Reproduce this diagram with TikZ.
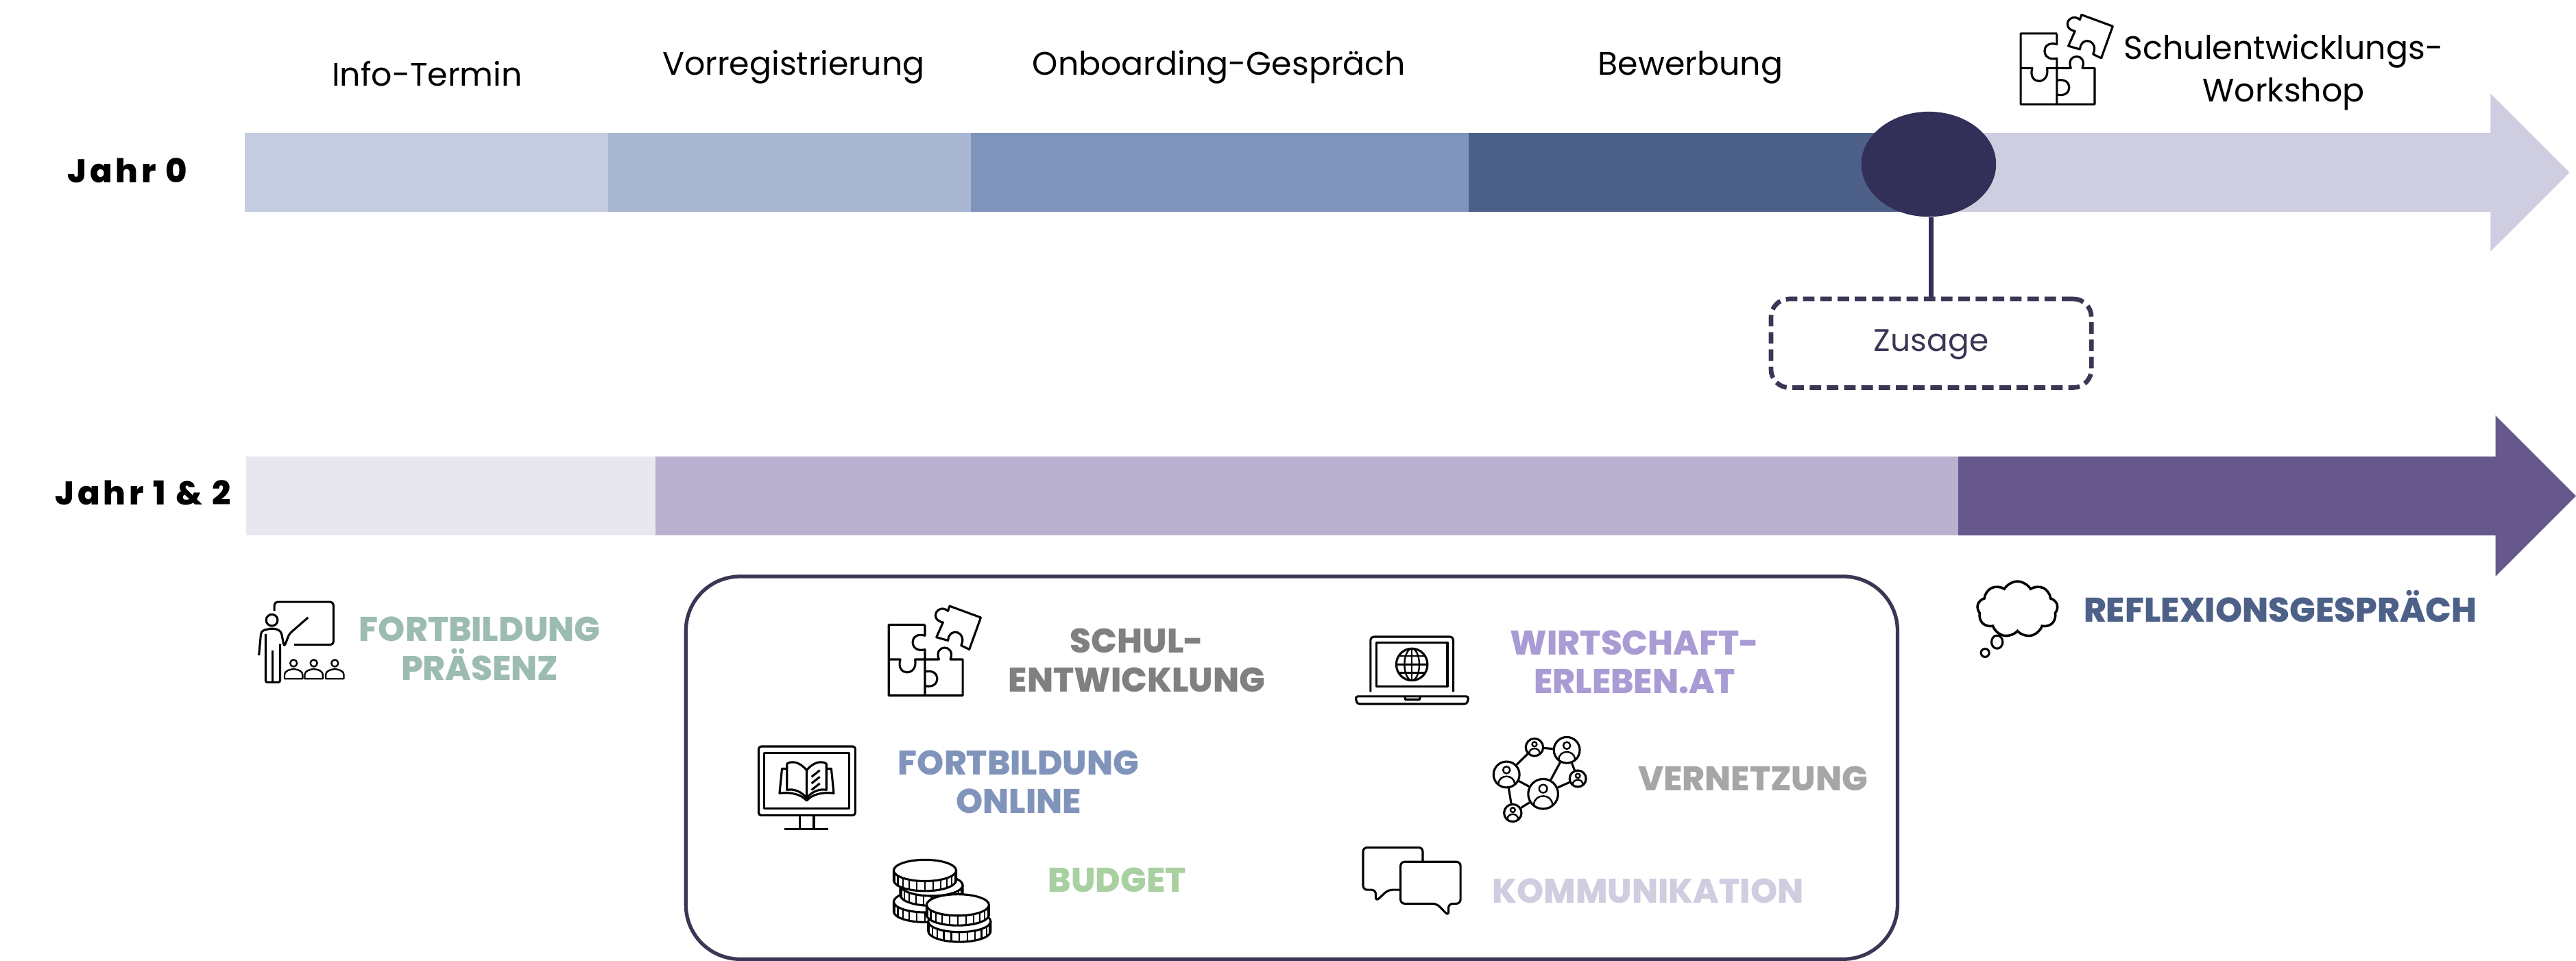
\documentclass[tikz,border=0pt]{standalone}
\usepackage{fontspec}
\setmainfont{Poppins}
\newfontfamily\jahrfont{Poppins ExtraBold}[LetterSpace=10]
\newfontfamily\themafont{Poppins ExtraBold}
\usetikzlibrary{shapes.geometric,shapes.symbols}
\definecolor{seg1}{HTML}{C4CDE0}
\definecolor{seg2}{HTML}{A8B6D1}
\definecolor{seg3}{HTML}{8094BB}
\definecolor{seg4}{HTML}{4C6088}
\definecolor{flieder}{HTML}{CFCDE0}
\definecolor{nacht}{HTML}{322F58}
\definecolor{rahmen}{HTML}{3A3654}
\definecolor{hell}{HTML}{E8E6EF}
\definecolor{mittel}{HTML}{B9B1CF}
\definecolor{dunkel}{HTML}{66588C}
\definecolor{salbei}{HTML}{9DBCB0}
\definecolor{lila}{HTML}{A99BD3}
\definecolor{gruen}{HTML}{A8D0A0}
\tikzset{
	phase/.style={font=\fontsize{19.8}{26}\selectfont,align=center},
	jahr/.style={font=\fontsize{20}{24}\jahrfont},
	thema/.style={font=\fontsize{20.8}{23.5}\themafont,align=center},
	ikon/.style={line width=1.3pt,line join=round,draw=black},
	pics/puzzle/.style={code={
			\draw[ikon] (22,11.4) -- (0,11.4) -- (0,54.5) -- (45,54.5) -- (45,32.5) -- (37.5,32.5)
			.. controls (41,23) and (27,23) .. (30.5,32.5) -- (22,32.5);
			\draw[ikon] (22,11.4) -- (22,18) .. controls (12,15) and (12,29) .. (22,26.5) -- (22,54.5);
			\draw[ikon] (0,32.5) -- (7,32.5) .. controls (4,43) and (18,43) .. (16,32.5) -- (22,32.5);
			\draw[ikon] (22,40) .. controls (32,37.5) and (32,51) .. (22,48.6);
			\draw[ikon] (37,0) -- (56,7) -- (49,26.4) -- (44,24)
			.. controls (48,16) and (37,12) .. (36,21) -- (29,19) -- (33,10)
			.. controls (24,8) and (30,-2) .. (36,3) -- cycle;
	}},
	pics/muenze/.style={code={
			\draw[ikon,fill=white] (-19,0) -- (-19,6) arc[start angle=180,end angle=360,x radius=19pt,y radius=6.5pt] -- (19,0);
			\draw[ikon,fill=white] (0,0) ellipse[x radius=19pt,y radius=6.5pt];
			\foreach \a in {195,210,...,345}
			\draw[line width=.9pt] ({19*cos(\a)},{6-6.5*sin(\a)}) -- ({19*cos(\a)},{-6.5*sin(\a)});
	}},
	pics/person/.style={code={
			\draw[line width=1pt] (0,{-.35*#1}) circle[radius=.27*#1pt];
			\draw[line width=1pt] ({-.62*#1},{.72*#1}) .. controls ({-.6*#1},{-.05*#1}) and ({.6*#1},{-.05*#1}) .. ({.62*#1},{.72*#1});
	}},
	pics/schueler/.style={code={
			\draw[ikon,line width=1pt] (0,0) circle[radius=2.1pt];
			\draw[ikon,line width=1pt] (-5.5,9.5) -- (-5.5,7) .. controls (-5,4) and (-2,4) .. (0,3.5)
			.. controls (2,4) and (5,4) .. (5.5,7) -- (5.5,9.5) -- cycle;
	}},
	netz/.style={circle,draw=black,line width=1.3pt,inner sep=0pt,fill=white},
	blase/.style={ikon,fill=white,rounded corners=2.5pt},
}
\begin{document}
\begin{tikzpicture}[x=1pt,y=-1pt]
	\useasboundingbox (0,0) rectangle (1568,585.13);
	
	% Jahr 0
	\fill[flieder] (1175,81) -- (1516,81) -- (1516,57) -- (1564,105) -- (1516,153) -- (1516,129) -- (1175,129) -- cycle;
	\foreach \von/\bis/\farbe in {149/370/seg1,370/591/seg2,591/894/seg3,894/1175/seg4}
	\fill[\farbe] (\von,81) rectangle (\bis,129);
	\node[ellipse,fill=nacht,minimum width=82pt,minimum height=64pt,inner sep=0pt] (zusagepunkt) at (1174,100) {};
	\node[draw=rahmen,line width=2.8pt,dash pattern=on 7pt off 3.5pt,rounded corners=11pt,minimum width=195pt,minimum height=54pt,
	text=rahmen,font=\fontsize{19}{23}\selectfont,inner sep=0pt,text height=10pt,text depth=0pt] (zusagebox) at (1175.5,209) {Zusage};
	\draw[nacht,line width=2.6pt] (zusagepunkt.south -| zusagebox.north) -- (zusagebox.north);
	
	\node[jahr] (jahrnull) at (77.5,104) {Jahr 0};
	\node[phase] (info) at (260,45) {Info-Termin};
	\node[phase] (vorreg) at (483,41) {Vorregistrierung};
	\node[phase] (onboarding) at (742,41) {Onboarding-Gespräch};
	\node[phase] (bewerbung) at (1029,41) {Bewerbung};
	\node[phase] (workshop) at (1390,44) {Schulentwicklungs-\\Workshop};
	\pic at (1230,9) {puzzle};
	
	% Jahr 1 und 2
	\fill[hell] (150,278) rectangle (399,326);
	\fill[mittel] (399,278) rectangle (1192,326);
	\fill[dunkel] (1192,278) -- (1519,278) -- (1519,253) -- (1568,302) -- (1519,351) -- (1519,326) -- (1192,326) -- cycle;
	\node[jahr] (jahreins) at (87,300) {Jahr 1 \& 2};
	
	% Fortbildung Praesenz
	\draw[ikon,rounded corners=2pt] (167,372) -- (167,366.5) -- (203,366.5) -- (203,392.6) -- (179,392.6);
	\draw[ikon] (165.5,377.6) circle[radius=3.5pt];
	\draw[ikon,rounded corners=2pt] (157.6,399) -- (159,384) -- (166,382.5) -- (171,384) -- (173,394) -- (176,386) -- (187.5,376);
	\draw[ikon,rounded corners=1pt] (161.7,386) -- (161.7,415.4) -- (170.5,415.4) -- (170.5,392);
	\draw[ikon] (166,396) -- (166,415.4);
	\pic at (178.7,403.8) {schueler};
	\pic at (191,403.8) {schueler};
	\pic at (203.8,403.8) {schueler};
	\node[thema,text=salbei] (praesenz) at (292,395) {FORTBILDUNG\\PRÄSENZ};
	
	% Kasten
	\draw[rahmen,line width=2.2pt,rounded corners=33pt] (417.5,351) rectangle (1155,584);
	\pic at (541,369) {puzzle};
	\node[thema,text=black!50] (schul) at (692,402) {SCHUL-\\ENTWICKLUNG};
	
	% Laptop
	\draw[ikon,rounded corners=2pt] (834.2,421.3) -- (834.2,387.7) -- (884.6,387.7) -- (884.6,421.3);
	\draw[ikon] (838,391.2) rectangle (881,418);
	\draw[ikon,rounded corners=1.5pt] (825,424) -- (894,424) -- (893,428.6) -- (826,428.6) -- cycle;
	\draw[ikon] (855,424) -- (855.5,426) -- (864,426) -- (864.5,424);
	\draw[ikon] (859.4,404.6) ellipse[x radius=9.5pt,y radius=9.7pt];
	\draw[ikon,line width=1pt] (859.4,404.6) ellipse[x radius=4.5pt,y radius=9.7pt];
	\draw[ikon,line width=1pt] (859.4,394.9) -- (859.4,414.3) (850,404.6) -- (869,404.6) (851.5,399.5) -- (867.3,399.5) (851.5,409.7) -- (867.3,409.7);
	\node[thema,text=lila] (wirtschaft) at (995,403) {WIRTSCHAFT-\\ERLEBEN.AT};
	
	% Monitor
	\draw[ikon,rounded corners=1.5pt] (461.8,454.5) rectangle (520.6,496.4);
	\draw[ikon] (465,458.5) rectangle (517,492.3);
	\draw[ikon] (486.7,496.4) -- (486.7,504.8) (495.4,496.4) -- (495.4,504.8) (477.3,504.8) -- (504.2,504.8);
	\begin{scope}[shift={(491,486)}]
		\draw[ikon] (0,-17) .. controls (-4,-22) and (-9,-23) .. (-12,-21) -- (-12,-5) .. controls (-8,-6) and (-3,-4) .. (0,0)
		.. controls (3,-4) and (8,-6) .. (12,-5) -- (12,-21) .. controls (9,-23) and (4,-22) .. (0,-17) -- (0,0);
		\draw[ikon] (-12,-18) -- (-15,-18) -- (-16.5,-3) .. controls (-9,-4) and (-3,-2) .. (0,1.5)
		.. controls (3,-2) and (9,-4) .. (16.5,-3) -- (15,-18) -- (12,-18);
		\draw[ikon] (3,-13) -- (8,-17) (3,-9) -- (8,-13) (3,-5) -- (8,-9);
	\end{scope}
	\node[thema,text=seg3] (online) at (620,476) {FORTBILDUNG\\ONLINE};
	
	% Vernetzung
	\foreach \n/\px/\py/\r in {a/934/455/5.3,b/953.7/456.7/7.9,c/917/471.6/7.9,d/939.3/483.4/9.1,e/960.4/474.1/5,f/920.8/495/5.3}
	\node[netz,minimum size=2*\r pt] (knoten\n) at (\px,\py) {};
	\draw[ikon] (knotena) -- (knotenb) (knotena) -- (knotenc) (knotenb) -- (knotend) (knotenb) -- (knotene)
	(knotenc) -- (knotend) (knotend) -- (knotene) (knotenc) -- (knotenf) (knotenf) -- (knotend);
	\foreach \px/\py/\r in {934/455/5.3,953.7/456.7/7.9,917/471.6/7.9,939.3/483.4/9.1,960.4/474.1/5,920.8/495/5.3}
	\pic at (\px,\py) {person=\r};
	\node[thema,text=black!35] (vernetzung) at (1067,474) {VERNETZUNG};
	
	% Budget
	\pic at (563,549) {muenze};
	\pic at (567,539) {muenze};
	\pic at (563,530) {muenze};
	\pic at (584,561) {muenze};
	\pic at (583,551) {muenze};
	\node[thema,text=gruen] (budget) at (680,536) {BUDGET};
	
	% Kommunikation
	\draw[blase] (829.7,516) -- (866,516) -- (866,541.8) -- (845,541.8) -- (837.4,548.8) -- (837.4,541.8) -- (829.7,541.8) -- cycle;
	\draw[blase] (852.5,524.7) -- (889,524.7) -- (889,550.2) -- (881.7,550.2) -- (881.7,557.6) -- (874.5,550.2) -- (852.5,550.2) -- cycle;
	\node[thema,text=flieder] (kommunikation) at (1003,542.5) {KOMMUNIKATION};
	
	% Reflexion
	\node[cloud,draw=black,line width=1.5pt,cloud puffs=9,cloud puff arc=120,aspect=1.4,minimum width=49pt,minimum height=34pt,inner sep=0pt] (wolke) at (1228,371) {};
	\draw[ikon] (1215.6,390.9) ellipse[x radius=3.4pt,y radius=4pt];
	\draw[ikon] (1208.3,397.5) circle[radius=2.5pt];
	\node[thema,text=seg4] (reflexion) at (1388,369) {REFLEXIONSGESPRÄCH};
\end{tikzpicture}
\end{document}
